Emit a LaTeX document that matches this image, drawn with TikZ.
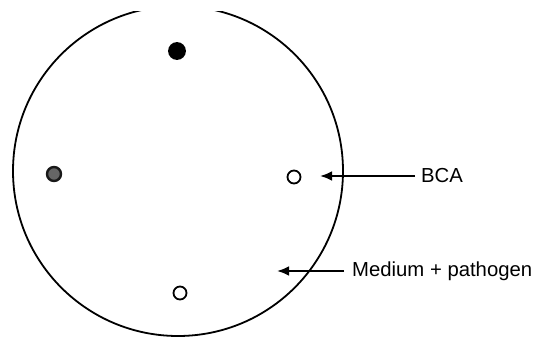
\documentclass[tikz,border=0pt]{standalone}
\usepackage{fontspec}
\setmainfont{Liberation Sans}
\usetikzlibrary{arrows.meta, positioning}

\begin{document}
\begin{tikzpicture}[x=1pt, y=-1pt,
  spot/.style={circle, draw=black, line width=1.8pt, minimum size=13pt, inner sep=0pt},
  lbl/.style={anchor=west, inner sep=0pt, font=\fontsize{20.3}{22}\selectfont},
  pointer/.style={-{Latex[length=12pt, width=10pt]}, line width=2.4pt}]
\useasboundingbox (0,0) rectangle (536,337);
% plate
\begin{scope}
\clip (0,12) rectangle (536,337);
\draw[line width=1.8pt] (178,171) circle (165);
\end{scope}
% spots
\node[spot, fill=black, minimum size=16pt] (topspot) at (177,51) {};
\node[spot, fill=black!60, draw=black!90, line width=2.4pt, minimum size=14pt] (leftspot) at (54,174) {};
\node[spot, fill=white] (rightspot) at (294,177) {};
\node[spot, fill=white] (bottomspot) at (180,293) {};
% labels
\node[lbl] (bca) at (421,176) {BCA};
\node[lbl] (medium) at (352,271) {Medium + pathogen};
\coordinate (bcatip) at (320,176);
\coordinate (mediumtip) at (277,271);
\draw[pointer] ([xshift=-6pt]bca.west) -- (bcatip);
\draw[pointer] ([xshift=-8pt]medium.west) -- (mediumtip);
\end{tikzpicture}
\end{document}
